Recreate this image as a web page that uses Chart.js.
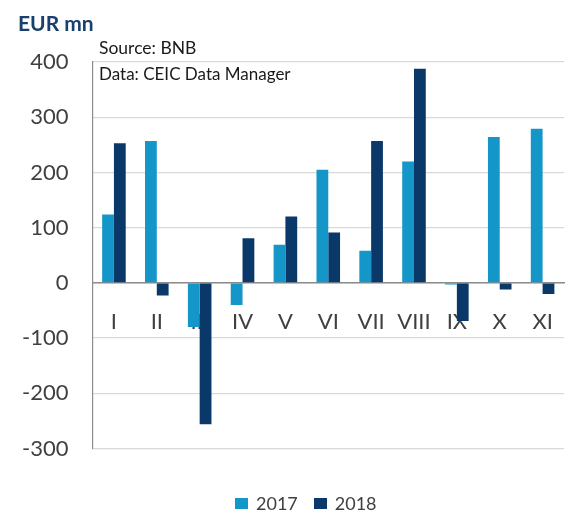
<!DOCTYPE html>
<html>
<head>
<meta charset="utf-8">
<script src="https://cdn.jsdelivr.net/npm/chart.js@4"></script>
<style>
  html, body { margin: 0; padding: 0; background: #ffffff; }
  #wrap { position: relative; width: 579px; height: 514px; }
  canvas { position: absolute; left: 0; top: 0; }
  .txt { position: absolute; font-family: Lato, "Noto Sans", sans-serif; white-space: nowrap; line-height: 1; }
  #unit { left: 18px; top: 12px; font-size: 21px; font-weight: bold; color: #17406D; }
  #src1 { left: 99px; top: 39px; font-size: 17.5px; color: #1a1a1a; }
  #src2 { left: 99px; top: 65px; font-size: 17px; color: #1a1a1a; }
  #legend { position: absolute; left: 235px; top: 494px; height: 18px; display: flex; align-items: center;
            font-family: Lato, "Noto Sans", sans-serif; font-size: 18px; color: #404040; line-height: 18px; }
  .item { display: flex; align-items: center; }
  .box { width: 13px; height: 11px; margin-right: 8px; }
</style>
</head>
<body>
<div id="wrap">
  <canvas id="c" width="579" height="514"></canvas>
  <div class="txt" id="unit">EUR mn</div>
  <div class="txt" id="src1">Source: BNB</div>
  <div class="txt" id="src2">Data: CEIC Data Manager</div>
  <div id="legend"></div>
</div>
<script>
const categories = ["I", "II", "III", "IV", "V", "VI", "VII", "VIII", "IX", "X", "XI"];
const series2017 = [124, 257, -80, -40, 69, 205, 58, 220, -3, 264, 279];
const series2018 = [253, -23, -256, 81, 120, 91, 257, 388, -69, -12, -20];
const seriesNames = ["2017", "2018"];
const yTicks = [-300, -200, -100, 0, 100, 200, 300, 400];

const colLight = "#1497C8";
const colDark = "#0A3869";

const chart = new Chart(document.getElementById("c"), {
  type: "bar",
  data: {
    labels: categories,
    datasets: [
      { label: seriesNames[0], data: series2017, backgroundColor: colLight, borderWidth: 0 },
      { label: seriesNames[1], data: series2018, backgroundColor: colDark, borderWidth: 0 }
    ]
  },
  options: {
    responsive: false,
    animation: false,
    devicePixelRatio: 1,
    layout: { padding: { left: 0, right: 4, top: 62, bottom: 65.5 } },
    datasets: { bar: { categoryPercentage: 0.55, barPercentage: 1.0 } },
    plugins: {
      tooltip: { enabled: false },
      legend: { display: false }
    },
    scales: {
      x: {
        position: { y: 0 },
        grid: { display: false, drawTicks: false },
        border: { display: true, color: "#8C8C8C", width: 1.5 },
        ticks: { font: { family: "Lato", size: 22 }, color: "#404040", padding: 26 }
      },
      y: {
        min: -300, max: 400,
        afterBuildTicks: (s) => { s.ticks = yTicks.map(v => ({ value: v })); },
        afterFit: (s) => { s.width = 92.5; },
        grid: { color: "#D9D9D9", lineWidth: 1.2, drawTicks: false },
        border: { display: true, color: "#8C8C8C", width: 1.2 },
        ticks: { font: { family: "Lato", size: 22 }, color: "#404040", padding: 24 }
      }
    }
  }
});

// HTML legend built from the chart's datasets
const leg = document.getElementById("legend");
chart.data.datasets.forEach((ds, i) => {
  const item = document.createElement("div");
  item.className = "item";
  if (i > 0) item.style.marginLeft = "16px";
  const box = document.createElement("div");
  box.className = "box";
  box.style.background = ds.backgroundColor;
  const t = document.createElement("span");
  t.textContent = ds.label;
  item.appendChild(box);
  item.appendChild(t);
  leg.appendChild(item);
});
</script>
</body>
</html>
